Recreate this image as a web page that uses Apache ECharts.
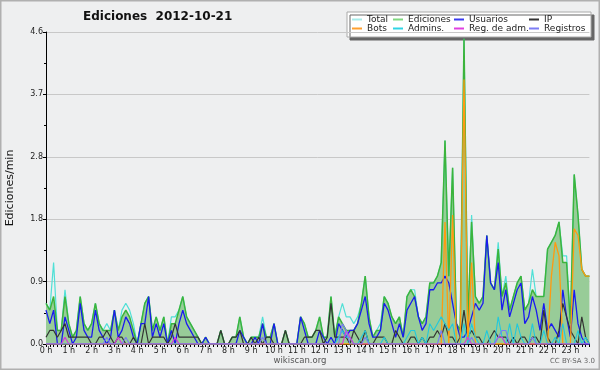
<!DOCTYPE html>
<html>
<head>
<meta charset="utf-8">
<script src="https://cdn.jsdelivr.net/npm/echarts@6/dist/echarts.min.js"></script>
<style>
  html, body { margin: 0; padding: 0; background: #eeeff0; }
  #chart { width: 600px; height: 370px; }
</style>
</head>
<body>
<div id="chart"></div>
<script>
// one value every 10 minutes, 6 per hour
var hourLabels = ['0 h', '1 h', '2 h', '3 h', '4 h', '5 h', '6 h', '7 h', '8 h', '9 h', '10 h', '11 h',
    '12 h', '13 h', '14 h', '15 h', '16 h', '17 h', '18 h', '19 h', '20 h', '21 h', '22 h', '23 h'];

var total = [
    0.6, 0.5, 1.2, 0.2, 0.2, 0.8,
    0.3, 0.1, 0.2, 0.7, 0.3, 0.2,
    0.3, 0.6, 0.3, 0.2, 0.3, 0.2,
    0.5, 0.2, 0.5, 0.6, 0.5, 0.3,
    0.0, 0.3, 0.6, 0.7, 0.2, 0.4,
    0.2, 0.4, 0.0, 0.4, 0.4, 0.5,
    0.7, 0.4, 0.3, 0.2, 0.1, 0.0,
    0.1, 0.0, 0.0, 0.0, 0.2, 0.0,
    0.0, 0.1, 0.1, 0.4, 0.1, 0.0,
    0.1, 0.1, 0.1, 0.4, 0.1, 0.1,
    0.3, 0.0, 0.0, 0.2, 0.0, 0.0,
    0.0, 0.4, 0.3, 0.1, 0.1, 0.2,
    0.4, 0.1, 0.1, 0.7, 0.1, 0.4,
    0.6, 0.4, 0.4, 0.3, 0.4, 0.6,
    1.0, 0.4, 0.1, 0.2, 0.3, 0.7,
    0.6, 0.4, 0.3, 0.4, 0.1, 0.7,
    0.8, 0.8, 0.4, 0.3, 0.4, 0.9,
    0.9, 1.0, 1.2, 3.0, 1.0, 2.6,
    0.3, 0.2, 4.5, 0.3, 1.9, 0.7,
    0.6, 0.7, 1.6, 0.9, 0.8, 1.5,
    0.7, 1.0, 0.5, 0.7, 0.9, 1.0,
    0.5, 0.6, 1.1, 0.7, 0.7, 0.7,
    1.4, 1.5, 1.6, 1.8, 1.3, 1.3,
    0.3, 2.5, 1.9, 1.1, 1.0, 1.0
];

var ediciones = [
    0.6, 0.5, 0.7, 0.2, 0.2, 0.7,
    0.3, 0.1, 0.2, 0.7, 0.3, 0.2,
    0.3, 0.6, 0.3, 0.2, 0.2, 0.2,
    0.5, 0.2, 0.4, 0.5, 0.4, 0.2,
    0.0, 0.3, 0.6, 0.7, 0.2, 0.4,
    0.2, 0.4, 0.0, 0.3, 0.3, 0.5,
    0.7, 0.4, 0.3, 0.2, 0.1, 0.0,
    0.1, 0.0, 0.0, 0.0, 0.2, 0.0,
    0.0, 0.1, 0.1, 0.4, 0.1, 0.0,
    0.1, 0.1, 0.1, 0.3, 0.1, 0.1,
    0.3, 0.0, 0.0, 0.2, 0.0, 0.0,
    0.0, 0.4, 0.3, 0.1, 0.1, 0.2,
    0.4, 0.1, 0.1, 0.7, 0.1, 0.4,
    0.3, 0.2, 0.2, 0.2, 0.3, 0.6,
    1.0, 0.4, 0.1, 0.2, 0.2, 0.7,
    0.6, 0.4, 0.3, 0.4, 0.1, 0.7,
    0.8, 0.7, 0.4, 0.3, 0.4, 0.9,
    0.9, 1.0, 1.2, 3.0, 1.0, 2.6,
    0.3, 0.2, 4.5, 0.3, 1.8, 0.7,
    0.6, 0.7, 1.6, 0.9, 0.8, 1.4,
    0.7, 0.9, 0.5, 0.7, 0.9, 1.0,
    0.5, 0.6, 0.8, 0.7, 0.7, 0.7,
    1.4, 1.5, 1.6, 1.8, 1.2, 1.2,
    0.3, 2.5, 1.9, 1.1, 1.0, 1.0
];

var usuarios = [
    0.5, 0.3, 0.5, 0.0, 0.0, 0.4,
    0.2, 0.0, 0.1, 0.6, 0.2, 0.1,
    0.1, 0.5, 0.2, 0.1, 0.0, 0.1,
    0.5, 0.1, 0.2, 0.4, 0.3, 0.1,
    0.0, 0.3, 0.3, 0.7, 0.1, 0.3,
    0.1, 0.3, 0.0, 0.2, 0.0, 0.3,
    0.5, 0.3, 0.2, 0.1, 0.0, 0.0,
    0.1, 0.0, 0.0, 0.0, 0.0, 0.0,
    0.0, 0.0, 0.0, 0.2, 0.1, 0.0,
    0.0, 0.1, 0.0, 0.3, 0.0, 0.0,
    0.3, 0.0, 0.0, 0.0, 0.0, 0.0,
    0.0, 0.4, 0.2, 0.0, 0.0, 0.0,
    0.2, 0.1, 0.0, 0.1, 0.0, 0.3,
    0.2, 0.1, 0.2, 0.2, 0.3, 0.5,
    0.7, 0.3, 0.1, 0.1, 0.2, 0.6,
    0.5, 0.3, 0.1, 0.3, 0.1, 0.5,
    0.6, 0.7, 0.4, 0.2, 0.3, 0.8,
    0.8, 0.9, 0.9, 1.0, 0.9, 0.6,
    0.3, 0.1, 0.1, 0.2, 0.4, 0.6,
    0.5, 0.6, 1.6, 0.9, 0.8, 1.2,
    0.5, 0.8, 0.4, 0.6, 0.8, 0.9,
    0.3, 0.4, 0.7, 0.5, 0.2, 0.6,
    0.2, 0.3, 0.2, 0.1, 0.8, 0.4,
    0.1, 0.8, 0.3, 0.1, 0.0, 0.0
];

var ip = [
    0.1, 0.2, 0.2, 0.1, 0.2, 0.3,
    0.1, 0.1, 0.1, 0.1, 0.1, 0.1,
    0.0, 0.0, 0.1, 0.1, 0.2, 0.1,
    0.0, 0.1, 0.1, 0.0, 0.0, 0.1,
    0.0, 0.0, 0.3, 0.0, 0.1, 0.1,
    0.1, 0.1, 0.0, 0.1, 0.3, 0.1,
    0.1, 0.1, 0.1, 0.1, 0.1, 0.0,
    0.0, 0.0, 0.0, 0.0, 0.2, 0.0,
    0.0, 0.1, 0.1, 0.2, 0.0, 0.0,
    0.1, 0.0, 0.1, 0.0, 0.1, 0.1,
    0.0, 0.0, 0.0, 0.2, 0.0, 0.0,
    0.0, 0.0, 0.1, 0.1, 0.1, 0.2,
    0.2, 0.0, 0.1, 0.6, 0.1, 0.1,
    0.1, 0.1, 0.0, 0.2, 0.1, 0.0,
    0.2, 0.0, 0.0, 0.1, 0.1, 0.1,
    0.0, 0.0, 0.2, 0.1, 0.0, 0.0,
    0.1, 0.1, 0.0, 0.1, 0.0, 0.1,
    0.1, 0.2, 0.1, 0.3, 0.1, 0.1,
    0.0, 0.1, 0.5, 0.1, 0.2, 0.1,
    0.1, 0.0, 0.0, 0.1, 0.2, 0.1,
    0.1, 0.1, 0.0, 0.1, 0.0, 0.1,
    0.1, 0.0, 0.1, 0.1, 0.0, 0.5,
    0.1, 0.0, 0.0, 0.2, 0.6, 0.4,
    0.2, 0.1, 0.0, 0.4, 0.1, 0.0
];

var bots = [
    0, 0, 0, 0, 0, 0,
    0, 0, 0, 0, 0, 0,
    0, 0, 0, 0, 0, 0,
    0, 0, 0, 0, 0, 0,
    0, 0, 0, 0, 0, 0,
    0, 0, 0, 0, 0, 0,
    0, 0, 0, 0, 0, 0,
    0, 0, 0, 0, 0, 0,
    0, 0, 0, 0, 0, 0,
    0, 0, 0, 0, 0, 0,
    0, 0, 0, 0, 0, 0,
    0, 0, 0, 0, 0, 0,
    0, 0, 0, 0, 0, 0,
    0, 0, 0, 0, 0, 0,
    0, 0, 0, 0, 0, 0,
    0, 0, 0, 0, 0, 0,
    0, 0, 0, 0, 0, 0,
    0, 0, 0, 1.8, 0, 1.9,
    0, 0, 3.9, 0, 1.2, 0,
    0, 0, 0, 0, 0, 0,
    0, 0, 0, 0, 0, 0,
    0, 0, 0, 0, 0, 0,
    0, 1.0, 1.5, 1.3, 0, 0,
    0, 1.7, 1.6, 1.1, 1.0, 1.0
];

var admins = [
    0, 0, 0, 0, 0, 0,
    0, 0, 0, 0, 0, 0,
    0, 0, 0, 0, 0, 0,
    0, 0, 0, 0, 0, 0,
    0, 0, 0, 0, 0, 0,
    0, 0, 0, 0, 0, 0,
    0, 0, 0, 0, 0, 0,
    0, 0, 0, 0, 0, 0,
    0, 0, 0, 0, 0, 0,
    0, 0, 0, 0, 0, 0,
    0, 0, 0, 0, 0, 0,
    0, 0, 0, 0, 0, 0,
    0, 0, 0, 0, 0, 0.1,
    0.2, 0.1, 0.1, 0, 0, 0.1,
    0.2, 0, 0, 0, 0, 0.1,
    0, 0, 0, 0, 0, 0.1,
    0.2, 0.2, 0, 0.1, 0, 0.3,
    0.2, 0.3, 0.4, 0.3, 0.2, 0.3,
    0, 0, 0.3, 0, 0.3, 0.1,
    0, 0, 0.2, 0, 0, 0.4,
    0.1, 0, 0.3, 0, 0.3, 0.1,
    0, 0, 0.3, 0, 0, 0.2,
    0, 0, 0.1, 0, 0.3, 0,
    0, 0, 0.2, 0, 0.1, 0
];

var regAdm = [
    0, 0, 0, 0, 0, 0.1,
    0, 0, 0, 0, 0, 0,
    0, 0, 0, 0, 0, 0,
    0, 0.1, 0, 0, 0, 0,
    0, 0, 0, 0, 0, 0,
    0, 0, 0, 0, 0.1, 0,
    0, 0, 0, 0, 0, 0,
    0, 0, 0, 0, 0, 0,
    0, 0, 0, 0, 0, 0,
    0, 0, 0, 0, 0, 0,
    0, 0, 0, 0, 0, 0,
    0, 0, 0, 0, 0, 0,
    0, 0, 0, 0, 0, 0,
    0, 0.2, 0.1, 0, 0, 0,
    0, 0, 0, 0, 0, 0,
    0, 0, 0, 0, 0, 0,
    0, 0, 0, 0, 0, 0,
    0, 0, 0, 0, 0, 0,
    0, 0, 0, 0.1, 0, 0,
    0, 0, 0, 0, 0, 0.1,
    0.1, 0, 0, 0, 0, 0,
    0, 0, 0, 0, 0, 0,
    0, 0, 0, 0, 0, 0,
    0, 0, 0, 0, 0, 0
];

var registros = [
    0, 0, 0, 0, 0, 0,
    0, 0, 0, 0, 0, 0,
    0, 0, 0, 0, 0.1, 0,
    0, 0, 0, 0.1, 0, 0,
    0, 0, 0, 0, 0, 0,
    0, 0, 0, 0, 0, 0,
    0, 0, 0, 0, 0, 0,
    0, 0, 0, 0, 0, 0,
    0, 0, 0, 0, 0, 0,
    0, 0, 0, 0.1, 0, 0,
    0, 0, 0, 0, 0, 0,
    0, 0, 0, 0, 0, 0,
    0, 0, 0, 0, 0, 0,
    0.3, 0.2, 0, 0, 0, 0,
    0.1, 0, 0, 0, 0, 0,
    0, 0, 0, 0, 0, 0,
    0, 0, 0, 0, 0, 0,
    0, 0, 0.2, 0, 0, 0,
    0, 0, 0, 0, 0.1, 0,
    0, 0, 0, 0, 0, 0.1,
    0.2, 0.2, 0, 0, 0, 0,
    0, 0, 0.1, 0, 0, 0,
    0, 0, 0, 0, 0, 0,
    0, 0, 0, 0, 0, 0
];

// category names, one per 10 minutes
var categories = [];
for (var h = 0; h < 24; h++) {
    for (var m = 0; m < 60; m += 10) {
        categories.push(h + ':' + (m < 10 ? '0' + m : m));
    }
}

var font = 'DejaVu Sans';

function lineSeries(name, data, color, width) {
    return {
        name: name,
        type: 'line',
        data: data,
        symbol: 'none',
        smooth: false,
        lineStyle: { color: color, width: width || 1.2 },
        itemStyle: { color: color },
        emphasis: { disabled: true }
    };
}

function legendCol(left, items) {
    return {
        orient: 'vertical',
        left: left,
        top: 15,
        z: 20,
        padding: 0,
        itemGap: 0,
        itemWidth: 10,
        itemHeight: 2,
        icon: 'rect',
        selectedMode: false,
        textStyle: { fontFamily: font, fontSize: 9, lineHeight: 9, color: '#222' },
        data: items
    };
}

var edSeries = lineSeries('Ediciones', ediciones, '#3cb43c', 1.5);
edSeries.areaStyle = { color: '#98cc98', opacity: 1 };

var option = {
    animation: false,
    backgroundColor: '#eeeff0',
    title: {
        text: 'Ediciones  2012-10-21',
        left: 83,
        top: 11,
        padding: 0,
        textStyle: { fontFamily: font, fontSize: 12, fontWeight: 'bold', color: '#111' }
    },
    legend: [
        legendCol(352, [{ name: 'Total', itemStyle: { color: '#a6ecea' } }, { name: 'Bots', itemStyle: { color: '#ffa030' } }]),
        legendCol(393, [{ name: 'Ediciones', itemStyle: { color: '#80d880' } }, { name: 'Admins.', itemStyle: { color: '#30d4e4' } }]),
        legendCol(454, [{ name: 'Usuarios', itemStyle: { color: '#3a3af0' } }, { name: 'Reg. de adm.', itemStyle: { color: '#e040e0' } }]),
        legendCol(529, [{ name: 'IP', itemStyle: { color: '#333333' } }, { name: 'Registros', itemStyle: { color: '#7d7df5' } }])
    ],
    grid: {
        left: 46,
        right: 10.6,
        top: 32,
        bottom: 26,
        containLabel: false,
        outerBoundsMode: 'none'
    },
    xAxis: {
        type: 'category',
        boundaryGap: false,
        data: categories,
        axisLine: { lineStyle: { color: '#000', width: 1 } },
        axisTick: { interval: 0, length: 3, lineStyle: { color: '#000' } },
        axisLabel: {
            interval: 5,
            margin: 3,
            fontFamily: font,
            fontSize: 8,
            color: '#222',
            formatter: function (value, index) {
                return hourLabels[Math.floor(index / 6)];
            }
        },
        splitLine: { show: false }
    },
    yAxis: {
        type: 'value',
        min: 0,
        max: 4.6,
        interval: 0.92,
        name: 'Ediciones/min',
        nameLocation: 'middle',
        nameGap: 30,
        nameTextStyle: { fontFamily: font, fontSize: 11, color: '#111' },
        axisLine: { show: true, lineStyle: { color: '#000', width: 1 } },
        axisTick: { show: true, length: 3, lineStyle: { color: '#000' } },
        minorTick: { show: true, splitNumber: 2, length: 2, lineStyle: { color: '#000' } },
        axisLabel: {
            margin: 3,
            fontFamily: font,
            fontSize: 8,
            color: '#222',
            formatter: function (v) { return v.toFixed(1); }
        },
        splitLine: { lineStyle: { color: '#c8c8c8', width: 1 } }
    },
    graphic: {
        z: 10,
        elements: [
            {
                type: 'rect',
                shape: { x: 347, y: 12, width: 244, height: 25 },
                style: { fill: '#fff', stroke: '#aaa', lineWidth: 1, shadowColor: '#666', shadowOffsetX: 3, shadowOffsetY: 3, shadowBlur: 0 }
            },
            {
                type: 'text',
                left: 'center',
                top: 356,
                style: { text: 'wikiscan.org', fontFamily: font, fontSize: 8.5, fill: '#555' }
            },
            {
                type: 'text',
                right: 5,
                top: 358,
                style: { text: 'CC BY-SA 3.0', fontFamily: font, fontSize: 7, fill: '#666' }
            },
            {
                type: 'rect',
                shape: { x: 0.5, y: 0.5, width: 599, height: 369 },
                style: { fill: 'none', stroke: '#b0b0b0', lineWidth: 2 }
            }
        ]
    },
    series: [
        lineSeries('Total', total, '#4fe0d6', 1.2),
        edSeries,
        lineSeries('Usuarios', usuarios, '#1a1af0', 1.3),
        lineSeries('IP', ip, '#333333', 1.2),
        lineSeries('Bots', bots, '#ff9a10', 1.3),
        lineSeries('Admins.', admins, '#22c8dc', 1.1),
        lineSeries('Reg. de adm.', regAdm, '#dd33dd', 1.1),
        lineSeries('Registros', registros, '#7b7bf5', 1.1)
    ]
};

var chart = echarts.init(document.getElementById('chart'));
chart.setOption(option);
</script>
</body>
</html>
